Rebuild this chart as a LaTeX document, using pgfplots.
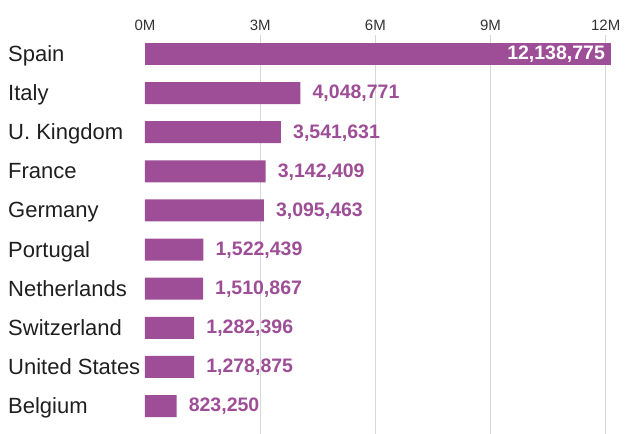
\documentclass[border=0pt]{standalone}
\usepackage{pgfplots}
\pgfplotsset{compat=1.18}
\usepackage{pgfplotstable}
\usepackage{fontspec}
\setmainfont{Liberation Sans}
\definecolor{barc}{HTML}{9D4E96}
\definecolor{gridc}{HTML}{D6D6D6}
\definecolor{tickc}{HTML}{333333}

\pgfplotstableread{
y x label
1 4.048771 4,048,771
2 3.541631 3,541,631
3 3.142409 3,142,409
4 3.095463 3,095,463
5 1.522439 1,522,439
6 1.510867 1,510,867
7 1.282396 1,282,396
8 1.278875 1,278,875
9 0.823250 823,250
}\rest
\pgfplotstableread{
y x label
0 12.138775 12,138,775
}\spain

\begin{document}
\begin{tikzpicture}
\begin{axis}[name=ax, scale only axis, width=493pt, height=399pt,
  xmin=0, xmax=12.84, ymin=-0.486, ymax=9.716, y dir=reverse,
  axis line style={draw=none}, major tick length=0pt,
  xticklabel pos=upper,
  xtick={3,6,9,12}, xticklabels={3M,6M,9M,12M},
  extra x ticks={0}, extra x tick labels={0M}, extra x tick style={grid=none},
  xmajorgrids, grid style={gridc, line width=1pt},
  xticklabel style={font=\fontsize{15}{15}\selectfont, text=tickc, yshift=1pt},
  ytick={0,...,9},
  yticklabels={Spain,Italy,U. Kingdom,France,Germany,Portugal,Netherlands,Switzerland,United States,Belgium},
  yticklabel style={anchor=base west, xshift=-137pt, yshift=-7.5pt, inner sep=0pt,
    font=\fontsize{22}{22}\selectfont, text=black!88},
  xbar, bar width=22pt, bar shift=0pt,
  nodes near coords, point meta=explicit symbolic,
]
\addplot[fill=barc, draw=none,
  every node near coord/.style={anchor=west, inner sep=0pt, xshift=12pt, yshift=-0.5pt,
    font=\bfseries\fontsize{19.5}{19.5}\selectfont, text=barc}]
  table[x=x, y=y, meta=label] \rest;
\addplot[fill=barc, draw=none,
  every node near coord/.style={anchor=east, inner sep=0pt, xshift=-6pt,
    font=\bfseries\fontsize{19.5}{19.5}\selectfont, text=white}]
  table[x=x, y=y, meta=label] \spain;
\end{axis}
\pgfresetboundingbox
\path[use as bounding box] ([xshift=-145pt]ax.south west) rectangle ([yshift=35pt]ax.north east);
\end{tikzpicture}
\end{document}
